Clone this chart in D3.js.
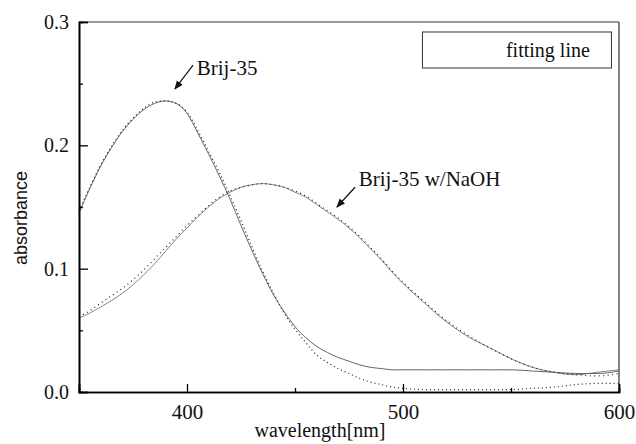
<!DOCTYPE html>
<html>
<head>
<meta charset="utf-8">
<script src="https://cdn.jsdelivr.net/npm/d3@7"></script>
<style>
  body { margin: 0; background: #fff; }
  #chart { width: 636px; height: 444px; }
  text { fill: #111; }
</style>
</head>
<body>
<div id="chart"></div>
<script>
// wavelength grid (nm)
let wavelengths = [350, 355, 360, 365, 370, 375, 380, 385, 390, 395, 400, 405, 410, 415, 420, 425, 430, 435, 440, 445, 450, 455, 460, 465, 470, 475, 480, 485, 490, 495, 500, 510, 520, 530, 540, 550, 560, 570, 580, 590, 600]

// Brij-35, fitting line and measured points
let brijFit = [0.145, 0.165, 0.183, 0.198, 0.211, 0.221, 0.229, 0.234, 0.236, 0.234, 0.226, 0.210, 0.193, 0.175, 0.156, 0.135, 0.115, 0.096, 0.079, 0.065, 0.053, 0.044, 0.037, 0.032, 0.028, 0.025, 0.022, 0.020, 0.019, 0.018, 0.018, 0.018, 0.018, 0.018, 0.018, 0.018, 0.017, 0.016, 0.015, 0.015, 0.017]
let brijData = [0.147, 0.166, 0.184, 0.199, 0.212, 0.222, 0.230, 0.235, 0.236, 0.234, 0.227, 0.212, 0.195, 0.178, 0.159, 0.139, 0.118, 0.098, 0.080, 0.064, 0.051, 0.040, 0.030, 0.024, 0.019, 0.015, 0.011, 0.008, 0.006, 0.004, 0.003, 0.002, 0.002, 0.002, 0.002, 0.002, 0.003, 0.004, 0.006, 0.007, 0.007]

// Brij-35 w/NaOH, fitting line and measured points
let naohFit = [0.060, 0.064, 0.069, 0.074, 0.080, 0.087, 0.095, 0.104, 0.114, 0.124, 0.133, 0.142, 0.150, 0.157, 0.162, 0.166, 0.168, 0.169, 0.168, 0.166, 0.162, 0.158, 0.152, 0.146, 0.140, 0.133, 0.125, 0.116, 0.107, 0.097, 0.088, 0.072, 0.057, 0.045, 0.036, 0.027, 0.020, 0.016, 0.014, 0.016, 0.018]
let naohData = [0.061, 0.066, 0.072, 0.078, 0.084, 0.091, 0.099, 0.108, 0.117, 0.126, 0.135, 0.143, 0.151, 0.158, 0.163, 0.166, 0.168, 0.169, 0.168, 0.166, 0.163, 0.159, 0.153, 0.147, 0.141, 0.134, 0.126, 0.117, 0.108, 0.098, 0.089, 0.073, 0.058, 0.046, 0.036, 0.027, 0.020, 0.016, 0.014, 0.013, 0.015]

let xMajor = [350, 400, 500, 600]
let xMinor = [450, 550]
let yMajor = [0.0, 0.1, 0.2, 0.3]
let yMinor = [0.05, 0.15, 0.25]

let serif = "'Liberation Serif', 'Times New Roman', serif"

let margin = {top: 22, right: 17, bottom: 52, left: 79}
let width = 636 - margin.left - margin.right
let height = 444 - margin.top - margin.bottom

let svg = d3.select("#chart").append("svg")
    .attr("width", 636)
    .attr("height", 444)
    .append("g")
    .attr("transform", `translate(${margin.left}, ${margin.top})`)

let x = d3.scaleLinear().domain([350, 600]).range([0, width])
let y = d3.scaleLinear().domain([0, 0.3]).range([height, 0])

// frame (top / right lighter, like the scan)
svg.append("line").attr("x1", 0).attr("x2", width).attr("y1", 0).attr("y2", 0)
    .attr("stroke", "#333").attr("stroke-width", 1)
svg.append("line").attr("x1", width).attr("x2", width).attr("y1", 0).attr("y2", height)
    .attr("stroke", "#333").attr("stroke-width", 1.2)

// curves
let line = d3.line().x((d, i) => x(wavelengths[i])).y(d => y(d)).curve(d3.curveMonotoneX)

svg.append("path").datum(brijFit).attr("d", line)
    .attr("fill", "none").attr("stroke", "#555").attr("stroke-width", 0.9)
svg.append("path").datum(brijData).attr("d", line)
    .attr("fill", "none").attr("stroke", "#222").attr("stroke-width", 1.2)
    .attr("stroke-dasharray", "1,3")
svg.append("path").datum(naohFit).attr("d", line)
    .attr("fill", "none").attr("stroke", "#666").attr("stroke-width", 0.8)
svg.append("path").datum(naohData).attr("d", line)
    .attr("fill", "none").attr("stroke", "#222").attr("stroke-width", 1.2)
    .attr("stroke-dasharray", "1,3.5")

// axes
let xAxis = svg.append("g").attr("transform", `translate(0, ${height})`)
    .call(d3.axisBottom(x).tickValues(xMajor).tickSize(-8).tickPadding(12)
        .tickFormat(d => d === 350 ? "" : d))
let xAxisMinor = svg.append("g").attr("transform", `translate(0, ${height})`)
    .call(d3.axisBottom(x).tickValues(xMinor).tickSize(-4).tickFormat(""))
let yAxis = svg.append("g")
    .call(d3.axisLeft(y).tickValues(yMajor).tickSize(-9).tickPadding(10).tickFormat(d3.format(".1f")))
let yAxisMinor = svg.append("g")
    .call(d3.axisLeft(y).tickValues(yMinor).tickSize(-4).tickFormat(""))

xAxis.attr("font-family", serif).attr("font-size", 21)
yAxis.attr("font-family", serif).attr("font-size", 20)
svg.selectAll(".domain").attr("stroke", "#000").attr("stroke-width", 1.6)
svg.selectAll(".tick line").attr("stroke", "#000").attr("stroke-width", 1.3)
svg.selectAll(".tick text").attr("fill", "#111")

// axis titles
svg.append("text")
    .attr("x", 241).attr("y", height + 45)
    .attr("text-anchor", "middle")
    .attr("font-family", serif)
    .attr("font-size", 20)
    .text("wavelength[nm]")

svg.append("text")
    .attr("transform", `translate(${-52}, ${height / 2 + 11}) rotate(-90)`)
    .attr("text-anchor", "middle")
    .attr("font-family", "'Liberation Sans', Arial, sans-serif")
    .attr("font-size", 18)
    .text("absorbance")

// legend box
svg.append("rect")
    .attr("x", x(509)).attr("y", y(0.2919))
    .attr("width", x(596.5) - x(509)).attr("height", y(0.2627) - y(0.2919))
    .attr("fill", "none").attr("stroke", "#333").attr("stroke-width", 1)
svg.append("text")
    .attr("x", x(586.5)).attr("y", y(0.2716))
    .attr("text-anchor", "end")
    .attr("font-family", serif)
    .attr("font-size", 20)
    .text("fitting line")

// annotations with arrows
svg.append("defs").append("marker")
    .attr("id", "arrow").attr("viewBox", "0 0 10 10")
    .attr("refX", 9).attr("refY", 5)
    .attr("markerWidth", 9).attr("markerHeight", 9)
    .attr("markerUnits", "userSpaceOnUse")
    .attr("orient", "auto")
    .append("path").attr("d", "M0,1 L10,5 L0,9 Z").attr("fill", "#111")

let notes = [
    {label: "Brij-35", tx: 404.5, ty: 0.2572, from: [402.8, 0.265], to: [394.4, 0.2457]},
    {label: "Brij-35 w/NaOH", tx: 479.5, ty: 0.167, from: [477.8, 0.166], to: [469.4, 0.150]}
]
notes.forEach(n => {
    svg.append("line")
        .attr("x1", x(n.from[0])).attr("y1", y(n.from[1]))
        .attr("x2", x(n.to[0])).attr("y2", y(n.to[1]))
        .attr("stroke", "#111").attr("stroke-width", 1.2)
        .attr("marker-end", "url(#arrow)")
    svg.append("text")
        .attr("x", x(n.tx)).attr("y", y(n.ty))
        .attr("font-family", serif)
        .attr("font-size", 21)
        .text(n.label)
})
</script>
</body>
</html>
